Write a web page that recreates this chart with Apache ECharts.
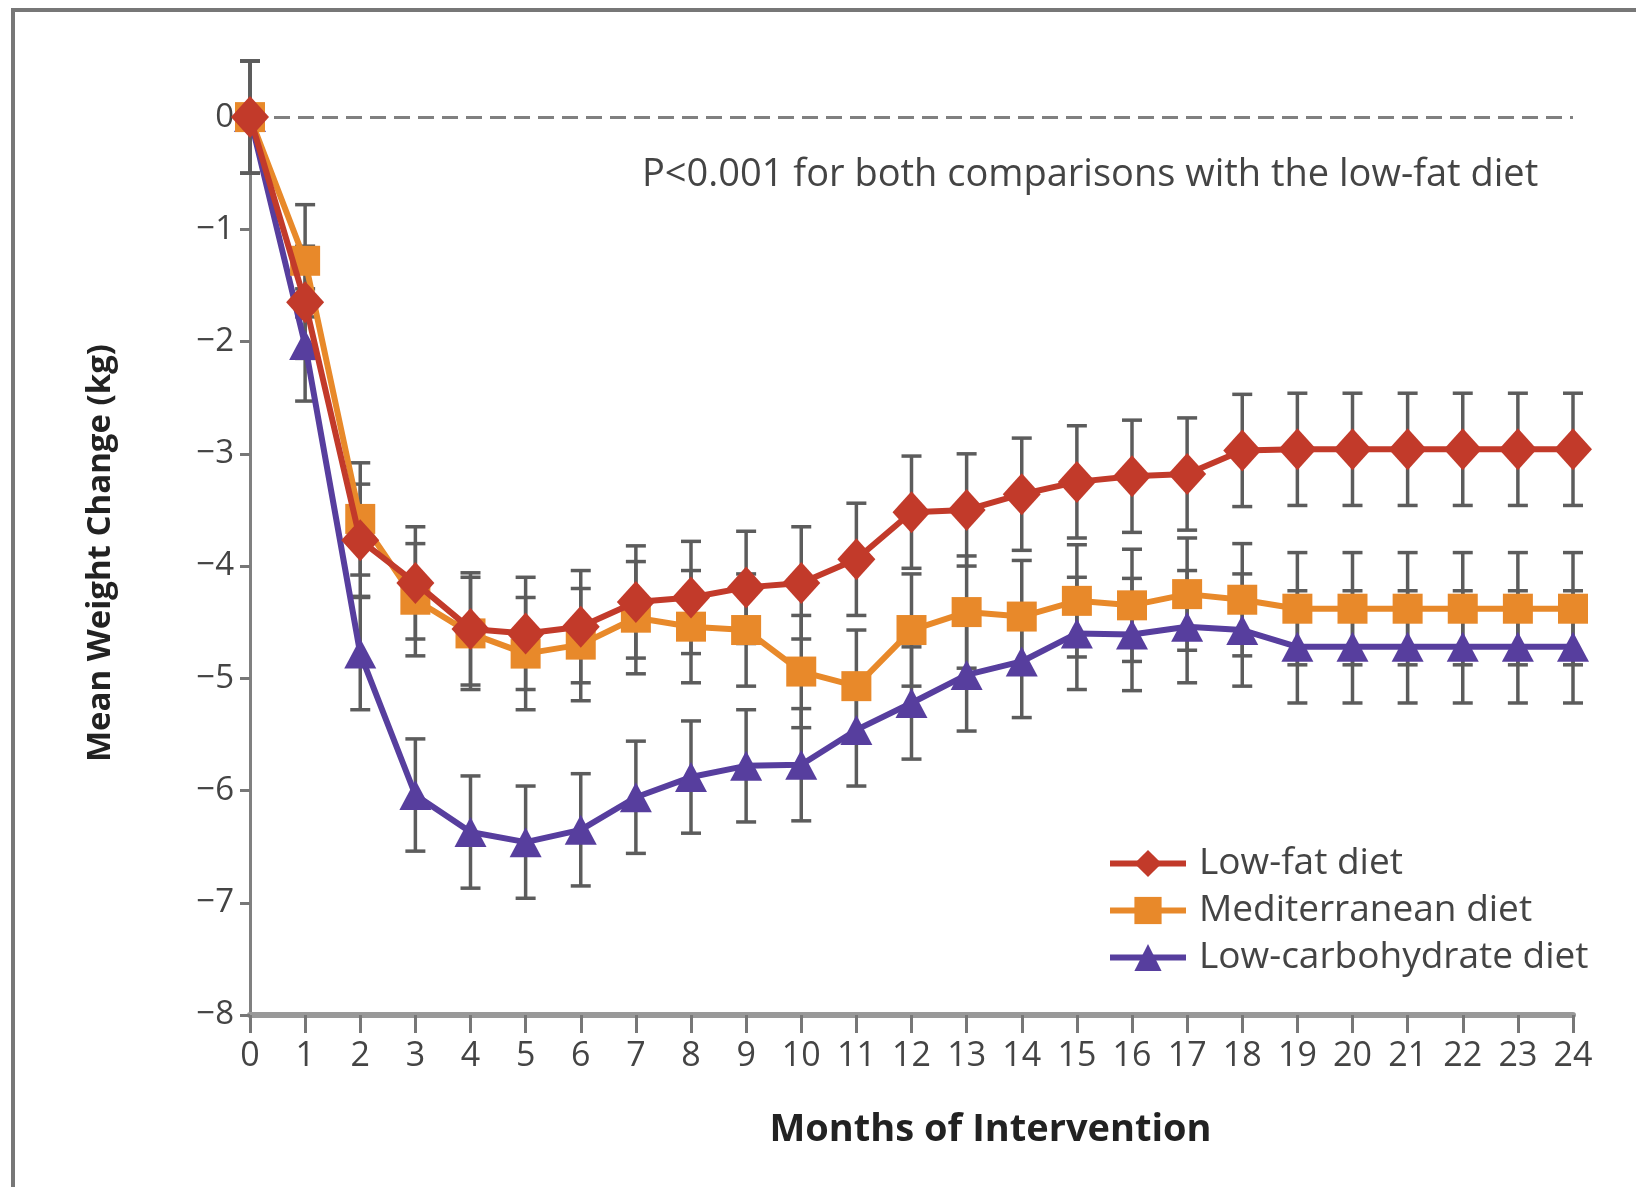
<!DOCTYPE html>
<html><head><meta charset="utf-8">
<script src="https://cdn.jsdelivr.net/npm/echarts@6/dist/echarts.min.js"></script>
<style>html,body{margin:0;padding:0;background:#fff}#c{width:1636px;height:1187px}</style>
</head><body><div id="c"></div>
<script>
const months = [0,1,2,3,4,5,6,7,8,9,10,11,12,13,14,15,16,17,18,19,20,21,22,23,24];
const seriesNames = ['Low-fat diet','Mediterranean diet','Low-carbohydrate diet'];
const lowFat = [0,-1.65,-3.77,-4.15,-4.56,-4.6,-4.54,-4.32,-4.28,-4.19,-4.15,-3.94,-3.52,-3.5,-3.36,-3.25,-3.2,-3.18,-2.97,-2.96,-2.96,-2.96,-2.96,-2.96,-2.96];
const mediterranean = [0,-1.28,-3.58,-4.3,-4.6,-4.78,-4.7,-4.46,-4.54,-4.57,-4.94,-5.07,-4.57,-4.41,-4.45,-4.31,-4.35,-4.25,-4.3,-4.38,-4.38,-4.38,-4.38,-4.38,-4.38];
const lowCarb = [0,-2.03,-4.78,-6.04,-6.37,-6.46,-6.35,-6.06,-5.88,-5.78,-5.77,-5.46,-5.22,-4.97,-4.85,-4.6,-4.61,-4.54,-4.57,-4.72,-4.72,-4.72,-4.72,-4.72,-4.72];
const lowFatErr = [0.5,0.5,0.5,0.5,0.5,0.5,0.5,0.5,0.5,0.5,0.5,0.5,0.5,0.5,0.5,0.5,0.5,0.5,0.5,0.5,0.5,0.5,0.5,0.5,0.5];
const medErr = [0.5,0.5,0.5,0.5,0.5,0.5,0.5,0.5,0.5,0.5,0.5,0.5,0.5,0.5,0.5,0.5,0.5,0.5,0.5,0.5,0.5,0.5,0.5,0.5,0.5];
const lowCarbErr = [0.5,0.5,0.5,0.5,0.5,0.5,0.5,0.5,0.5,0.5,0.5,0.5,0.5,0.5,0.5,0.5,0.5,0.5,0.5,0.5,0.5,0.5,0.5,0.5,0.5];
const yTicks = [-8,-7,-6,-5,-4,-3,-2,-1,0];
const annotation = 'P<0.001 for both comparisons with the low-fat diet';
const xTitle = 'Months of Intervention';
const yTitle = 'Mean Weight Change (kg)';

const colors = ['#c23a2a','#e8892a','#573e9e'];
const tickFont = '"Open Sans","Noto Sans",sans-serif';
const textFont = '"Open Sans","Noto Sans",sans-serif';

function pts(vals){ return months.map((m,i)=>[m, vals[i]]); }
function errData(vals, errs){ return months.map((m,i)=>[m, vals[i]-errs[i], vals[i]+errs[i]]); }
function errSeries(vals, errs){
  return {
    type:'custom', silent:true, z:1,
    data: errData(vals, errs),
    encode:{x:0, y:[1,2]},
    renderItem: function(params, api){
      const lo = api.coord([api.value(0), api.value(1)]);
      const hi = api.coord([api.value(0), api.value(2)]);
      const w = 10;
      const st = {stroke:'#5c5c5c', lineWidth:3.5};
      return {type:'group', children:[
        {type:'line', shape:{x1:lo[0],y1:lo[1],x2:hi[0],y2:hi[1]}, style:st},
        {type:'line', shape:{x1:lo[0]-w,y1:lo[1],x2:lo[0]+w,y2:lo[1]}, style:st},
        {type:'line', shape:{x1:hi[0]-w,y1:hi[1],x2:hi[0]+w,y2:hi[1]}, style:st}
      ]};
    }
  };
}
function lineSeries(name, vals, color, symbol, size, z){
  return {
    name, type:'line', data: pts(vals), z,
    symbol, symbolSize:size, showAllSymbol:true,
    lineStyle:{color, width:6}, itemStyle:{color},
    emphasis:{disabled:true}, animation:false
  };
}

const chart = echarts.init(document.getElementById('c'), null, {renderer:'canvas'});
const lf = lineSeries(seriesNames[0], lowFat, colors[0], 'diamond', [38,42], 5);
lf.markLine = {silent:true, symbol:'none', label:{show:false}, z:0,
  lineStyle:{color:'#808080', width:3, type:[16,8]},
  data:[[{coord:[0,0]},{coord:[24,0]}]]};
chart.setOption({
  animation:false,
  backgroundColor:'#fff',
  color: colors,
  grid:{left:250, right:63, top:61, bottom:172, containLabel:false},
  xAxis:{
    type:'value', min:0, max:24, interval:1,
    name:xTitle, nameLocation:'middle', nameGap:96,
    nameTextStyle:{fontFamily:textFont, fontSize:38, fontWeight:'bold', color:'#222', padding:[0,0,0,158]},
    axisLine:{onZero:false, lineStyle:{color:'#999', width:6}},
    axisTick:{inside:false, length:18, lineStyle:{color:'#777', width:3}},
    axisLabel:{fontFamily:tickFont, fontSize:34, color:'#444', margin:24},
    splitLine:{show:false}
  },
  yAxis:{
    type:'value', min:-8, max:0.5, interval:1,
    name:yTitle, nameLocation:'middle', nameGap:133, nameRotate:90,
    nameTextStyle:{fontFamily:textFont, fontSize:33, fontWeight:'bold', color:'#222', padding:[0,30,0,0]},
    axisLine:{onZero:false, lineStyle:{color:'#808080', width:3}},
    axisTick:{inside:false, length:10, lineStyle:{color:'#777', width:3}, customValues:yTicks},
    axisLabel:{fontFamily:tickFont, fontSize:33, color:'#444', margin:16, customValues:yTicks,
      formatter: v => (v<0 ? '\u2212'+Math.abs(v) : String(v))},
    splitLine:{show:false}
  },
  legend:{
    left:1102, top:840, orient:'vertical', itemGap:10,
    itemWidth:76, itemHeight:34,
    lineStyle:{width:6},
    textStyle:{fontFamily:textFont, fontSize:37, color:'#444', padding:[0,0,0,8]},
    data: seriesNames, selectedMode:false
  },
  graphic:[
    {type:'text', left:642, top:156, style:{text:annotation, fontFamily:textFont, fontSize:38, fill:'#444'}},
    {type:'line', shape:{x1:11,y1:10,x2:1636,y2:10}, style:{stroke:'#777', lineWidth:4}},
    {type:'line', shape:{x1:13,y1:8,x2:13,y2:1187}, style:{stroke:'#777', lineWidth:4}}
  ],
  series:[
    errSeries(lowFat, lowFatErr),
    errSeries(mediterranean, medErr),
    errSeries(lowCarb, lowCarbErr),
    lf,
    lineSeries(seriesNames[1], mediterranean, colors[1], 'rect', [30,30], 4),
    lineSeries(seriesNames[2], lowCarb, colors[2], 'triangle', [32,30], 3)
  ]
});
</script></body></html>
